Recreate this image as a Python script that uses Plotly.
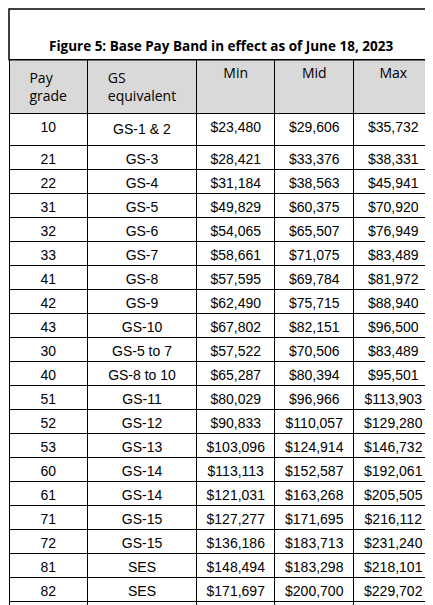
import plotly.graph_objects as go

title = "Figure 5: Base Pay Band in effect as of June 18, 2023"
headers = ["Pay grade", "GS equivalent", "Min", "Mid", "Max"]
pay_grade = ["10","21","22","31","32","33","41","42","43","30","40","51","52","53","60","61","71","72","81","82","90"]
gs_equiv = ["GS-1 &amp; 2","GS-3","GS-4","GS-5","GS-6","GS-7","GS-8","GS-9","GS-10","GS-5 to 7","GS-8 to 10",
            "GS-11","GS-12","GS-13","GS-14","GS-14","GS-15","GS-15","SES","SES","SES"]
min_pay = [23480,28421,31184,49829,54065,58661,57595,62490,67802,57522,65287,80029,90833,103096,113113,121031,127277,136186,148494,171697,187078]
mid_pay = [29606,33376,38563,60375,65507,71075,69784,75715,82151,70506,80394,96966,110057,124914,152587,163268,171695,183713,183298,200700,223289]
max_pay = [35732,38331,45941,70920,76949,83489,81972,88940,96500,83489,95501,113903,129280,146732,192061,205505,216112,231240,218101,229702,259500]

fmt = lambda v: "${:,}".format(v)
W, H = 433, 605
top = 51
fig = go.Figure(go.Table(
    columnwidth=[80, 111, 80, 80, 81],
    header=dict(values=headers, fill_color="#d9d9d9", line=dict(color="black", width=1),
                align="center", height=47,
                font=dict(family="Open Sans, Liberation Sans", size=14, color="black")),
    cells=dict(values=[pay_grade, gs_equiv, [fmt(v) for v in min_pay], [fmt(v) for v in mid_pay], [fmt(v) for v in max_pay]],
               fill_color="white", line=dict(color="black", width=1), align="center", height=24,
               font=dict(family="Liberation Sans, Arial", size=14, color="black")),
    domain=dict(x=[0, 1], y=[0, 1 - top / H]),
))
fig.update_layout(
    width=W, height=H, margin=dict(l=1, r=8, t=1, b=1), paper_bgcolor="white",
    annotations=[dict(text="<b>" + title + "</b>", x=0.5, y=1 - 26 / H, xref="paper", yref="paper",
                      showarrow=False, font=dict(family="Open Sans, Liberation Sans", size=13.5, color="black"))],
    shapes=[dict(type="rect", xref="paper", yref="paper", x0=0, x1=1, y0=1 - top / H, y1=1,
                 line=dict(color="black", width=1.5))],
)
fig.write_html("out.html")
